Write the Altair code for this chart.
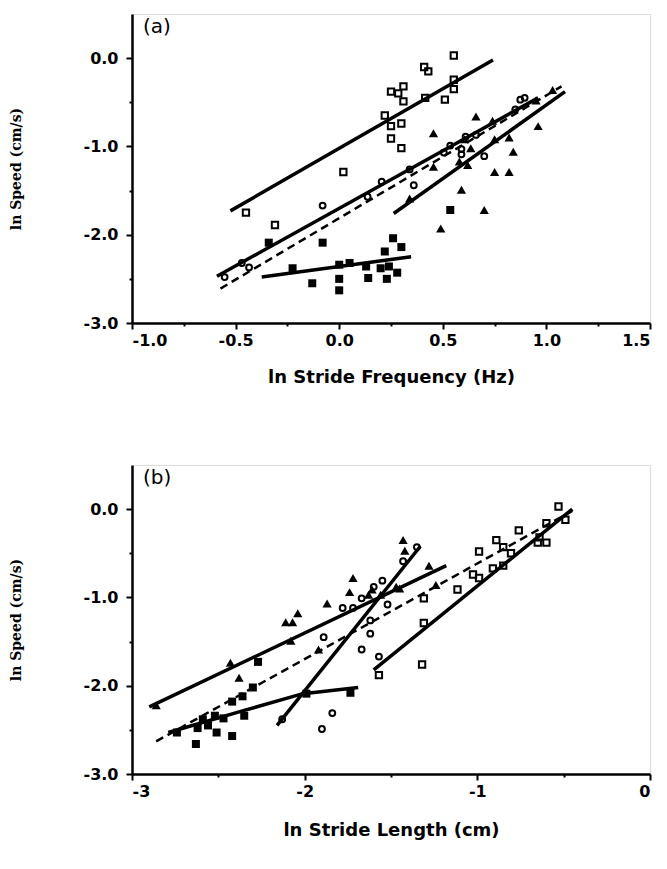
import altair as alt
import pandas as pd

# ---------------- Panel (a): ln Speed vs ln Stride Frequency ----------------
a_osq_x = [-0.45, -0.31, 0.02, 0.22, 0.25, 0.30, 0.25, 0.30, 0.25, 0.285, 0.31, 0.31, 0.41, 0.43, 0.415, 0.51, 0.553, 0.553, 0.553]
a_osq_y = [-1.75, -1.89, -1.29, -0.65, -0.77, -0.74, -0.91, -1.02, -0.38, -0.40, -0.32, -0.49, -0.10, -0.15, -0.45, -0.47, 0.03, -0.245, -0.35]

a_oci_x = [-0.553, -0.47, -0.435, -0.08, 0.205, 0.137, 0.36, 0.536, 0.59, 0.61, 0.59, 0.70, 0.85, 0.895, 0.874, 0.505, 0.66, 0.34]
a_oci_y = [-2.48, -2.32, -2.37, -1.67, -1.40, -1.57, -1.44, -0.99, -1.03, -0.89, -1.09, -1.11, -0.58, -0.45, -0.47, -1.07, -0.87, -1.26]

a_fsq_x = [-0.34, -0.225, -0.13, -0.08, 0.0, 0.0, 0.0, 0.05, 0.14, 0.13, 0.20, 0.23, 0.28, 0.24, 0.22, 0.26, 0.30, 0.536]
a_fsq_y = [-2.09, -2.38, -2.55, -2.09, -2.50, -2.63, -2.34, -2.32, -2.49, -2.36, -2.38, -2.50, -2.43, -2.36, -2.19, -2.04, -2.14, -1.72]

a_tri_x = [0.66, 0.74, 0.455, 0.96, 0.82, 0.84, 0.75, 0.82, 0.59, 0.70, 0.49, 0.455, 0.62, 0.58, 0.635, 0.605, 0.75, 1.03, 0.95, 0.34]
a_tri_y = [-0.66, -0.71, -0.85, -0.77, -0.90, -1.06, -1.29, -1.29, -1.49, -1.72, -1.93, -1.23, -1.21, -1.17, -1.02, -0.92, -0.92, -0.36, -0.48, -1.59]

a_line_id = ["osq", "osq", "oci", "oci", "tri", "tri", "fsq", "fsq"]
a_line_x = [-0.525, 0.742, -0.59, 0.96, 0.263, 1.09, -0.374, 0.347]
a_line_y = [-1.73, -0.02, -2.47, -0.45, -1.76, -0.38, -2.48, -2.25]

a_dash_id = ["all", "all"]
a_dash_x = [-0.573, 1.073]
a_dash_y = [-2.61, -0.32]

# ---------------- Panel (b): ln Speed vs ln Stride Length ----------------
b_osq_x = [-0.53, -0.49, -0.60, -0.76, -0.89, -0.85, -0.65, -0.60, -0.64, -0.805, -0.99, -0.91, -0.85, -1.025, -0.99, -1.115, -1.31, -1.31, -1.32, -1.57]
b_osq_y = [0.03, -0.12, -0.16, -0.24, -0.35, -0.43, -0.38, -0.38, -0.32, -0.50, -0.48, -0.67, -0.64, -0.74, -0.78, -0.91, -1.01, -1.29, -1.76, -1.88]

b_oci_x = [-2.13, -1.90, -1.84, -1.89, -1.78, -1.72, -1.67, -1.67, -1.62, -1.62, -1.60, -1.55, -1.43, -1.35, -1.52, -1.57]
b_oci_y = [-2.38, -2.49, -2.31, -1.45, -1.12, -1.12, -1.01, -1.59, -1.26, -1.41, -0.88, -0.81, -0.59, -0.43, -1.08, -1.67]

b_fsq_x = [-2.27, -2.30, -2.36, -2.42, -2.35, -2.42, -2.51, -2.47, -2.52, -2.59, -2.56, -2.62, -2.63, -2.74, -1.99, -1.735]
b_fsq_y = [-1.73, -2.02, -2.12, -2.18, -2.34, -2.57, -2.53, -2.37, -2.34, -2.38, -2.45, -2.48, -2.66, -2.53, -2.09, -2.08]

b_tri_x = [-2.86, -2.43, -2.38, -2.11, -2.07, -2.04, -2.08, -1.87, -1.72, -1.74, -1.61, -1.56, -1.92, -1.43, -1.42, -1.28, -1.45, -1.63, -1.24, -1.47]
b_tri_y = [-2.22, -1.74, -1.91, -1.28, -1.28, -1.18, -1.49, -1.07, -0.78, -0.94, -0.91, -0.97, -1.59, -0.35, -0.47, -0.64, -0.90, -0.97, -0.86, -0.88]

b_line_id = ["osq", "osq", "oci", "oci", "tri", "tri", "fsq", "fsq", "fsq", "fsq"]
b_line_x = [-1.60, -0.45, -2.16, -1.33, -2.90, -1.18, -2.79, -2.35, -2.01, -1.69]
b_line_y = [-1.82, 0.0, -2.45, -0.42, -2.24, -0.64, -2.53, -2.28, -2.09, -2.02]

b_dash_id = ["all", "all"]
b_dash_x = [-2.86, -0.45]
b_dash_y = [-2.63, -0.02]

y_ticks = [-3.0, -2.5, -2.0, -1.5, -1.0, -0.5, 0.0]
a_x_ticks = [-1.0, -0.75, -0.5, -0.25, 0.0, 0.25, 0.5, 0.75, 1.0, 1.25, 1.5]
b_x_ticks = [-3.0, -2.5, -2.0, -1.5, -1.0, -0.5, 0.0]

MINUS = "\u2212"

def axis_common(**kw):
    base = dict(
        grid=False,
        domainColor="black", domainWidth=2.5,
        tickColor="black", tickWidth=2,
        labelFont="DejaVu Sans", labelFontWeight="bold", labelFontSize=16,
        labelColor="black",
        titleColor="black",
    )
    base.update(kw)
    return alt.Axis(**base)


def minor_test(mult):
    return f"abs(datum.value*{mult} - round(datum.value*{mult})) > 0.001"


y_axis = axis_common(
    title="ln  Speed  (cm/s)",
    values=y_ticks,
    labelExpr=f"{minor_test(1)} ? '' : replace(format(datum.value, '.1f'), '{MINUS}', '-')",
    tickSize={"condition": {"test": minor_test(1), "value": 3}, "value": 6},
    labelPadding=8,
    titleFont="DejaVu Serif", titleFontWeight="bold", titleFontSize=14,
    titlePadding=60,
)

a_x_axis = axis_common(
    title="ln Stride Frequency (Hz)",
    values=a_x_ticks,
    labelExpr=f"{minor_test(2)} ? '' : replace(format(datum.value, '.1f'), '{MINUS}', '-')",
    tickSize={"condition": {"test": minor_test(2), "value": 3}, "value": 6},
    labelPadding=3,
    titleFont="DejaVu Sans", titleFontWeight="bold", titleFontSize=18,
    titlePadding=20,
)

b_x_axis = axis_common(
    title="ln Stride Length (cm)",
    values=b_x_ticks,
    labelExpr=f"{minor_test(1)} ? '' : replace(format(datum.value, 'd'), '{MINUS}', '-')",
    tickSize={"condition": {"test": minor_test(1), "value": 3}, "value": 6},
    labelPadding=3,
    titleFont="DejaVu Sans", titleFontWeight="bold", titleFontSize=18,
    titlePadding=22,
)


def pts(xs, ys):
    return pd.DataFrame({"x": xs, "y": ys})


def panel(xdom, xaxis, osq, oci, fsq, tri, lines, dash, label):
    xs = alt.Scale(domain=xdom, nice=False, zero=False)
    ys = alt.Scale(domain=[-3.0, 0.5], nice=False, zero=False)
    X = alt.X("x:Q", scale=xs, axis=xaxis)
    Y = alt.Y("y:Q", scale=ys, axis=y_axis)

    solid = alt.Chart(pd.DataFrame({"id": lines[0], "x": lines[1], "y": lines[2]})).mark_line(
        color="black", strokeWidth=3.5, strokeCap="butt"
    ).encode(x=X, y=Y, detail="id:N")
    dashed = alt.Chart(pd.DataFrame({"id": dash[0], "x": dash[1], "y": dash[2]})).mark_line(
        color="black", strokeWidth=2.5, strokeDash=[8, 5]
    ).encode(x=X, y=Y, detail="id:N")

    p_osq = alt.Chart(pts(*osq)).mark_point(
        shape="square", filled=False, stroke="black", strokeWidth=2, size=40, opacity=1
    ).encode(x=X, y=Y)
    p_oci = alt.Chart(pts(*oci)).mark_point(
        shape="circle", filled=False, stroke="black", strokeWidth=2, size=34, opacity=1
    ).encode(x=X, y=Y)
    p_fsq = alt.Chart(pts(*fsq)).mark_point(
        shape="square", filled=True, color="black", size=64, opacity=1
    ).encode(x=X, y=Y)
    p_tri = alt.Chart(pts(*tri)).mark_point(
        shape="triangle-up", filled=True, color="black", size=85, opacity=1
    ).encode(x=X, y=Y)

    txt = alt.Chart(pd.DataFrame({"t": [label]})).mark_text(
        align="left", baseline="top", fontSize=20, font="DejaVu Sans", color="black"
    ).encode(x=alt.value(11), y=alt.value(3), text="t:N")

    return alt.layer(solid, dashed, p_osq, p_oci, p_fsq, p_tri, txt).properties(
        width=518, height=309
    )


pa = panel([-1.0, 1.5], a_x_axis,
           (a_osq_x, a_osq_y), (a_oci_x, a_oci_y), (a_fsq_x, a_fsq_y), (a_tri_x, a_tri_y),
           (a_line_id, a_line_x, a_line_y), (a_dash_id, a_dash_x, a_dash_y), "(a)")
pb = panel([-3.0, 0.0], b_x_axis,
           (b_osq_x, b_osq_y), (b_oci_x, b_oci_y), (b_fsq_x, b_fsq_y), (b_tri_x, b_tri_y),
           (b_line_id, b_line_x, b_line_y), (b_dash_id, b_dash_x, b_dash_y), "(b)")

chart = alt.vconcat(pa, pb, spacing=77).properties(
    padding={"left": 0, "top": 5, "right": 0, "bottom": 5}
).configure_view(stroke=None).configure(background="white")

chart.save("out.html", embed_options={"renderer": "svg", "actions": False})
